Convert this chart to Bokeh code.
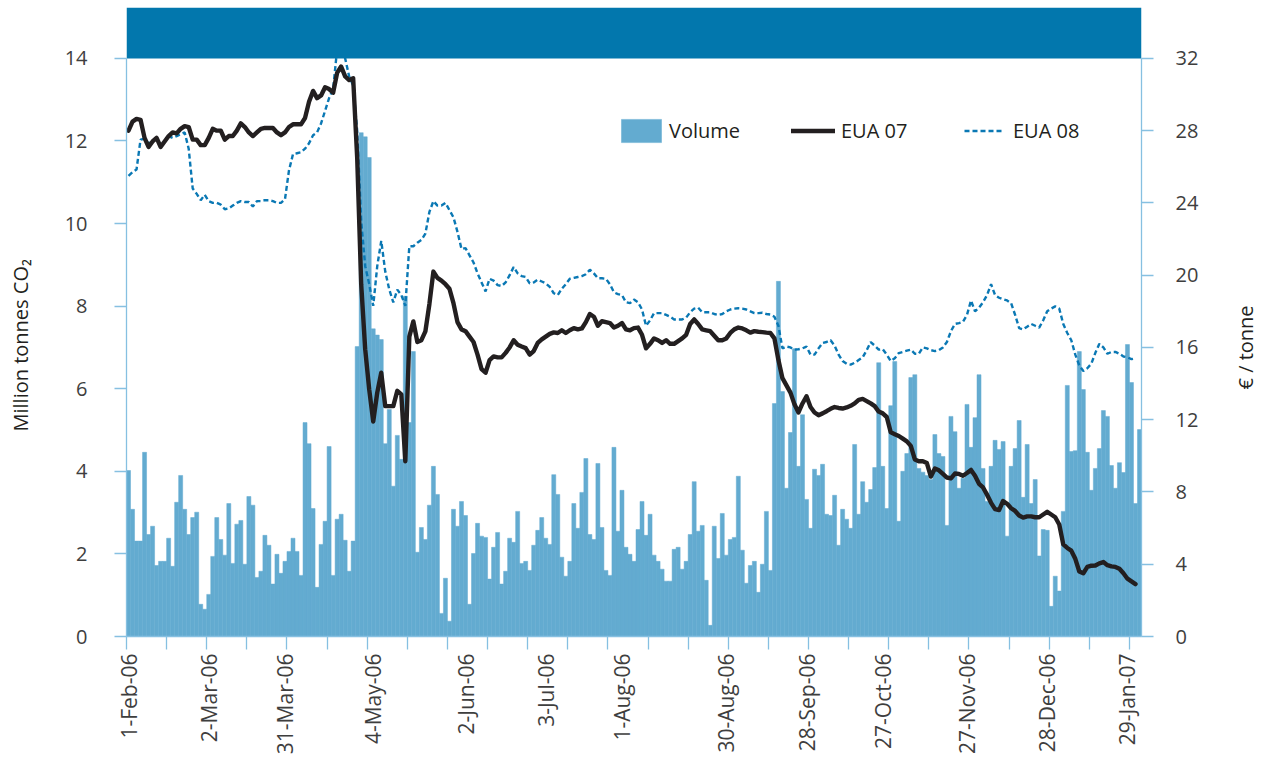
import math
from bokeh.plotting import figure
from bokeh.layouts import row
from bokeh.models import (Range1d, LinearAxis, FixedTicker, BoxAnnotation, Legend,
                          LegendItem, Title)
from bokeh.embed import file_html
from bokeh.resources import INLINE

# Daily traded volume (million tonnes CO2), one value per trading day
volume = [
    4.02, 3.08, 2.31, 2.31, 4.46, 2.47, 2.67, 1.72, 1.82, 1.82,
    2.38, 1.70, 3.25, 3.90, 3.08, 2.47, 2.88, 3.01, 0.78, 0.66,
    1.02, 1.94, 2.88, 2.35, 1.97, 3.22, 1.77, 2.72, 2.81, 1.75,
    3.39, 3.18, 1.43, 1.58, 2.45, 2.21, 1.27, 1.99, 1.53, 1.82,
    2.06, 2.38, 2.06, 1.48, 5.18, 4.67, 3.10, 1.19, 2.23, 2.79,
    4.60, 1.48, 2.84, 2.96, 2.33, 1.58, 2.31, 7.02, 12.2, 12.1,
    11.6, 7.45, 7.30, 7.19, 4.67, 5.50, 3.64, 4.87, 4.29, 8.24,
    5.18, 6.90, 2.04, 2.64, 2.35, 3.18, 4.12, 3.44, 0.56, 1.41,
    0.37, 3.08, 2.67, 3.27, 2.93, 0.78, 2.01, 2.74, 2.43, 2.40,
    1.39, 2.16, 2.52, 1.27, 1.58, 2.38, 2.28, 3.03, 1.77, 1.82,
    1.60, 2.21, 2.57, 2.88, 2.38, 2.23, 3.92, 3.44, 1.92, 1.46,
    1.82, 3.22, 2.62, 3.49, 4.31, 2.47, 2.35, 4.19, 2.64, 1.60,
    1.48, 4.58, 2.55, 3.54, 2.16, 1.99, 1.82, 2.59, 3.27, 2.45,
    2.96, 1.97, 1.82, 1.63, 1.34, 1.34, 2.11, 2.16, 1.63, 1.82,
    2.47, 3.75, 2.55, 2.69, 1.36, 0.27, 2.67, 1.89, 2.98, 1.97,
    2.35, 2.40, 3.88, 2.09, 1.29, 1.72, 1.82, 1.07, 1.75, 3.03,
    1.60, 5.64, 8.60, 5.93, 3.59, 4.94, 6.97, 4.12, 5.37, 3.32,
    2.62, 4.05, 3.90, 4.17, 2.96, 2.93, 3.42, 2.21, 3.08, 2.84,
    2.62, 4.65, 2.96, 3.75, 3.25, 3.56, 4.09, 6.63, 4.12, 3.10,
    5.59, 6.66, 2.79, 4.00, 4.43, 6.27, 6.34, 4.07, 3.98, 3.90,
    3.80, 4.89, 4.43, 4.36, 2.69, 5.33, 4.96, 3.59, 3.83, 5.62,
    4.58, 5.30, 6.34, 4.07, 3.27, 4.12, 4.75, 4.53, 4.72, 2.43,
    4.12, 4.55, 5.23, 3.37, 4.65, 3.22, 3.80, 1.95, 2.59, 2.57,
    0.73, 1.46, 1.10, 3.03, 6.08, 4.48, 4.50, 6.90, 5.98, 4.46,
    3.54, 4.07, 4.55, 5.47, 5.33, 4.14, 3.59, 4.21, 3.97, 7.07,
    6.15, 3.22, 5.01,
]

# EUA 07 price (EUR / tonne)
eua07 = [
    28.0, 28.5, 28.65, 28.6, 27.6, 27.1, 27.4, 27.6, 27.1, 27.4,
    27.7, 27.9, 27.85, 28.1, 28.25, 28.2, 27.5, 27.5, 27.2, 27.2,
    27.6, 28.1, 28.0, 28.0, 27.5, 27.7, 27.7, 28.0, 28.4, 28.2,
    27.9, 27.7, 27.9, 28.1, 28.15, 28.15, 28.15, 27.9, 27.75, 27.9,
    28.2, 28.35, 28.35, 28.35, 28.7, 29.6, 30.2, 29.8, 29.95, 30.4,
    30.3, 30.1, 31.2, 31.55, 31.0, 30.8, 30.9, 26.5, 19.5, 15.9,
    13.67, 11.9, 13.5, 14.6, 12.75, 12.75, 12.75, 13.6, 13.4, 9.7,
    16.6, 17.44, 16.3, 16.4, 16.89, 18.4, 20.2, 19.85, 19.7, 19.5,
    19.25, 18.45, 17.4, 17.0, 16.9, 16.6, 16.3, 15.6, 14.8, 14.6,
    15.3, 15.5, 15.45, 15.45, 15.7, 16.0, 16.4, 16.15, 16.05, 15.96,
    15.6, 15.8, 16.25, 16.45, 16.6, 16.75, 16.83, 16.8, 16.95, 16.8,
    16.95, 17.07, 17.0, 17.05, 17.4, 17.85, 17.7, 17.2, 17.45, 17.4,
    17.35, 17.1, 17.2, 17.35, 17.0, 16.95, 17.07, 17.1, 16.7, 15.95,
    16.2, 16.5, 16.4, 16.25, 16.4, 16.2, 16.2, 16.35, 16.5, 16.7,
    17.3, 17.55, 17.3, 17.0, 16.95, 16.9, 16.65, 16.4, 16.4, 16.5,
    16.8, 17.0, 17.1, 17.05, 16.95, 16.82, 16.9, 16.87, 16.85, 16.82,
    16.8, 16.5, 15.3, 14.3, 13.9, 13.5, 12.85, 12.4, 12.9, 13.3,
    12.7, 12.4, 12.25, 12.35, 12.47, 12.6, 12.7, 12.65, 12.62, 12.68,
    12.77, 12.9, 13.1, 13.15, 13.03, 12.9, 12.75, 12.45, 12.35, 12.15,
    11.3, 11.2, 11.1, 10.95, 10.8, 10.55, 9.8, 9.7, 9.7, 9.6,
    8.85, 9.3, 9.2, 9.0, 8.8, 8.75, 9.02, 9.0, 8.9, 9.05,
    9.22, 8.9, 8.45, 8.25, 7.85, 7.4, 7.05, 7.0, 7.5, 7.35,
    7.1, 6.95, 6.7, 6.58, 6.65, 6.65, 6.6, 6.6, 6.75, 6.9,
    6.75, 6.6, 6.2, 5.1, 4.9, 4.75, 4.3, 3.6, 3.5, 3.85,
    3.92, 3.93, 4.05, 4.12, 3.95, 3.88, 3.85, 3.75, 3.5, 3.2,
    3.05, 2.9,
]

# EUA 08 price (EUR / tonne)
eua08 = [
    25.5, 25.7, 25.85, 27.5, 27.55, 27.3, 27.4, 27.6, 27.2, 27.4,
    27.7, 27.6, 27.7, 27.8, 27.9, 27.0, 24.8, 24.5, 24.15, 24.45,
    24.1, 24.0, 24.0, 23.9, 23.65, 23.7, 23.85, 24.0, 24.1, 24.05,
    24.05, 23.8, 24.1, 24.1, 24.15, 24.15, 24.1, 24.0, 24.0, 24.2,
    25.8, 26.7, 26.75, 26.8, 27.0, 27.3, 27.75, 27.9, 28.4, 29.1,
    29.8, 30.3, 32.5, 33.2, 32.0, 31.0, 30.5, 28.0, 23.0, 20.5,
    19.5, 18.3, 20.5, 21.9, 20.2, 19.2, 18.5, 19.2, 18.9, 18.3,
    21.6, 21.6, 21.8, 21.95, 22.3, 23.5, 24.1, 23.85, 23.85, 24.0,
    23.6, 23.2, 22.4, 21.45, 21.5, 21.1, 20.7, 20.1, 19.6, 19.1,
    19.8, 19.7, 19.45, 19.4, 19.6, 20.0, 20.45, 20.1, 19.95, 19.9,
    19.55, 19.6, 19.75, 19.65, 19.55, 19.35, 19.0, 18.9, 19.25, 19.5,
    19.8, 19.85, 19.9, 19.95, 20.05, 20.3, 20.1, 19.83, 19.83, 19.8,
    19.5, 19.05, 18.95, 18.9, 18.5, 18.45, 18.65, 18.5, 18.1, 17.2,
    17.5, 17.9, 17.9, 17.9, 17.8, 17.7, 17.55, 17.55, 17.55, 17.65,
    17.95, 18.15, 18.2, 17.95, 17.95, 17.95, 17.85, 17.8, 17.85, 18.0,
    18.1, 18.15, 18.17, 18.15, 18.1, 18.0, 17.9, 17.9, 17.92, 17.85,
    17.82, 17.7, 17.2, 15.95, 16.05, 16.0, 15.88, 15.9, 15.95, 16.05,
    15.6, 15.6, 15.95, 16.25, 16.3, 16.4, 16.1, 15.6, 15.25, 15.1,
    15.05, 15.15, 15.3, 15.45, 15.85, 16.3, 16.1, 15.88, 15.9, 15.6,
    15.25, 15.4, 15.69, 15.75, 15.82, 15.88, 15.65, 15.65, 16.0, 15.95,
    15.85, 15.8, 15.85, 16.0, 16.3, 16.9, 17.3, 17.35, 17.42, 17.8,
    18.6, 18.0, 18.2, 18.5, 18.9, 19.5, 18.9, 18.75, 18.66, 18.6,
    18.45, 17.8, 17.07, 17.0, 17.15, 17.3, 17.2, 17.1, 17.5, 18.0,
    18.15, 18.27, 18.15, 17.3, 16.8, 16.4, 15.6, 15.0, 14.7, 14.85,
    15.1, 15.7, 16.2, 16.0, 15.65, 15.75, 15.75, 15.65, 15.5, 15.45,
    15.35, 15.4,
]

# x-axis date labels and the trading-day index they belong to
date_labels = ["1-Feb-06", "2-Mar-06", "31-Mar-06", "4-May-06", "2-Jun-06", "3-Jul-06",
               "1-Aug-06", "30-Aug-06", "28-Sep-06", "27-Oct-06", "27-Nov-06",
               "28-Dec-06", "29-Jan-07"]
date_label_index = [0, 20, 39, 61, 84, 104, 123, 149, 169, 188, 209, 229, 249]

left_ticks = [0, 2, 4, 6, 8, 10, 12, 14]
right_ticks = [0, 4, 8, 12, 16, 20, 24, 28, 32]

N = len(volume)
idx = list(range(N))

FONT = "Open Sans"
BAR = "#63abd0"
BAND = "#0277ad"
DASH = "#0a78b4"
BLACK = "#231f20"
AXIS = "#86c0e1"
TICKTXT = "#3e3e3e"

Y_TOP = 15.232
P_TOP = 32 * Y_TOP / 14

p = figure(width=1184, height=757, output_backend="svg", toolbar_location=None,
           x_range=Range1d(-0.5, N - 0.5), y_range=Range1d(0, Y_TOP),
           x_axis_type=None, y_axis_type=None,
           min_border_top=7, min_border_left=86, min_border_right=83, min_border_bottom=0)
p.extra_y_ranges = {"price": Range1d(0, P_TOP)}
p.outline_line_color = None
p.background_fill_color = "white"
p.border_fill_color = "white"

# x axis: minor ticks as tick marks every 10 trading days, labels at label days
xaxis = LinearAxis(ticker=FixedTicker(ticks=date_label_index,
                                      minor_ticks=[k * 10 - 0.5 for k in range(26)]))
xaxis.major_label_overrides = {i: s for i, s in zip(date_label_index, date_labels)}
xaxis.major_label_orientation = math.pi / 2
xaxis.major_tick_out = 0
xaxis.major_tick_in = 0
xaxis.major_tick_line_color = None
xaxis.minor_tick_out = 13
xaxis.minor_tick_in = 0
xaxis.minor_tick_line_color = AXIS
xaxis.minor_tick_line_width = 1.3
xaxis.axis_line_color = AXIS
xaxis.axis_line_width = 1.3
xaxis.major_label_standoff = 4
xaxis.major_label_text_font = FONT
xaxis.major_label_text_font_size = "21px"
xaxis.major_label_text_color = TICKTXT
p.add_layout(xaxis, "below")

ly = LinearAxis(ticker=FixedTicker(ticks=left_ticks), bounds=(0, 14))
ry = LinearAxis(y_range_name="price", ticker=FixedTicker(ticks=right_ticks), bounds=(0, 32))
for ax, st in ((ly, 27), (ry, 22)):
    ax.major_tick_out = 12
    ax.major_tick_in = 0
    ax.minor_tick_line_color = None
    ax.major_tick_line_color = AXIS
    ax.major_tick_line_width = 1.3
    ax.axis_line_color = AXIS
    ax.axis_line_width = 1.3
    ax.major_label_standoff = st
    ax.major_label_text_font = FONT
    ax.major_label_text_font_size = "20px"
    ax.major_label_text_color = TICKTXT
p.add_layout(ly, "left")
p.add_layout(ry, "right")

bars = p.vbar(x=idx, top=volume, width=1.0, fill_color=BAR, line_color=BAR, line_width=0.5)
l08 = p.line(idx[:len(eua08)], eua08, y_range_name="price", line_color=DASH,
             line_width=2.4, line_dash="5 3")
l07 = p.line(idx[:len(eua07)], eua07, y_range_name="price", line_color=BLACK,
             line_width=4.4, line_join="round", line_cap="round")

p.add_layout(BoxAnnotation(bottom=14, fill_color=BAND, fill_alpha=1.0, line_color=None))


def make_legend(label, r, gw, gh, loc, standoff):
    return Legend(items=[LegendItem(label=label, renderers=[r])], location=loc,
                  orientation="horizontal", glyph_width=gw, glyph_height=gh,
                  label_standoff=standoff, padding=0, margin=0, spacing=0,
                  border_line_color=None, background_fill_alpha=0,
                  label_text_font=FONT, label_text_font_size="20px",
                  label_text_color=BLACK)


p.add_layout(make_legend("Volume", bars, 50, 29, (490, 491), 3))
p.add_layout(make_legend("EUA 07", l07, 44, 29, (665, 491), 6))
p.add_layout(make_legend("EUA 08", l08, 40, 29, (838, 491), 9))


# narrow side strips carrying the two axis titles (reading bottom-to-top)
def title_strip(text, offset, standoff):
    s = figure(width=40, height=757, output_backend="svg", toolbar_location=None,
               x_axis_type=None, y_axis_type=None,
               min_border_top=7, min_border_bottom=119, min_border_left=39,
               min_border_right=0)
    s.outline_line_color = None
    s.background_fill_color = "white"
    s.border_fill_color = "white"
    s.add_layout(Title(text=text, align="left", offset=offset, vertical_align="bottom",
                       standoff=standoff, text_font=FONT, text_font_size="20px",
                       text_font_style="normal", text_color=BLACK), "left")
    return s


left_strip = title_strip("Million tonnes CO₂", 205, 13)
right_strip = title_strip("€ / tonne", 247, 11)

layout = row(left_strip, p, right_strip)
open("out.html", "w").write(file_html(layout, INLINE, title="EUA volume and prices"))
